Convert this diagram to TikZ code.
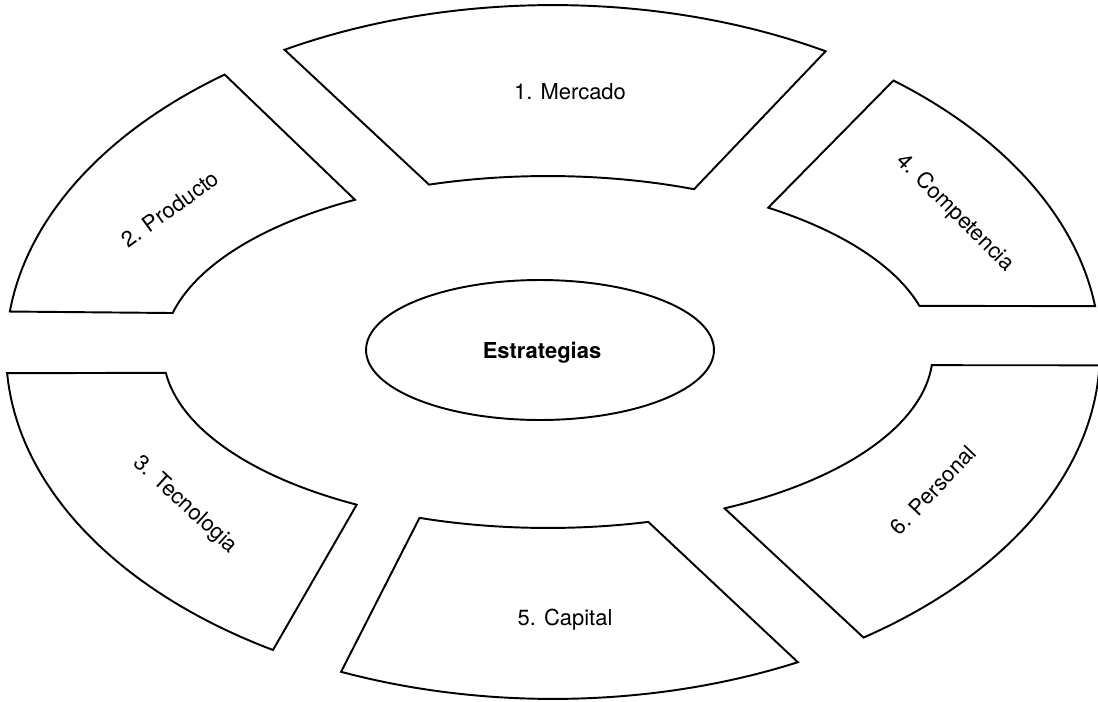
\documentclass[tikz,border=0pt]{standalone}
\usepackage{fontspec}
\setmainfont{TeX Gyre Heros}
\newcommand\ringseg[4]{%
  \draw[seg] ([shift={(#1:10.94cm and 6.94cm)}]O)
    arc[start angle=#1, end angle=#2, x radius=10.94cm, y radius=6.94cm]
    -- ([shift={(#3:7.7cm and 3.52cm)}]I)
    arc[start angle=#3, end angle=#4, x radius=7.7cm, y radius=3.52cm]
    -- cycle;}
\begin{document}
\begin{tikzpicture}[x=0.02cm,y=0.02cm,
  seg/.style={draw=black, line width=1.1pt, line join=miter},
  lbl/.style={font=\fontsize{12.5}{15}\selectfont, inner sep=0pt}]
\fill[white] (0,0) rectangle (1098,701);
\useasboundingbox (0,0) rectangle (1098,701);
\coordinate (O) at (553,349);
\coordinate (I) at (548,349);
\coordinate (C) at (540,351);
% ring segments
\ringseg{60.1}{119.4}{108.0}{67.7}
\ringseg{126.9}{173.3}{167.2}{120.1}
\ringseg{-176.5}{-120.8}{-119.8}{-173.2}
\ringseg{-112.8}{-63.4}{-74.9}{-109.5}
\ringseg{-55.4}{-2.2}{-4.3}{-62.7}
\ringseg{7.6}{51.5}{55.1}{15.2}
% centre
\draw[seg] (C) ellipse[x radius=3.48cm, y radius=1.4cm];
\node[lbl, font=\fontsize{12.5}{15}\selectfont\bfseries] (estr) at (542,348) {Estrategias};
% labels
\node[lbl] (mercado) at (570,609) {1. Mercado};
\node[lbl, rotate=36] (producto) at (170,492) {2. Producto};
\node[lbl, rotate=-42.5] (tecnologia) at (185,196) {3. Tecnologia};
\node[lbl, rotate=-45] (competencia) at (955,488) {4. Competencia};
\node[lbl] (capital) at (565,81) {5. Capital};
\node[lbl, rotate=46.5] (personal) at (933,211) {6. Personal};
\end{tikzpicture}
\end{document}
